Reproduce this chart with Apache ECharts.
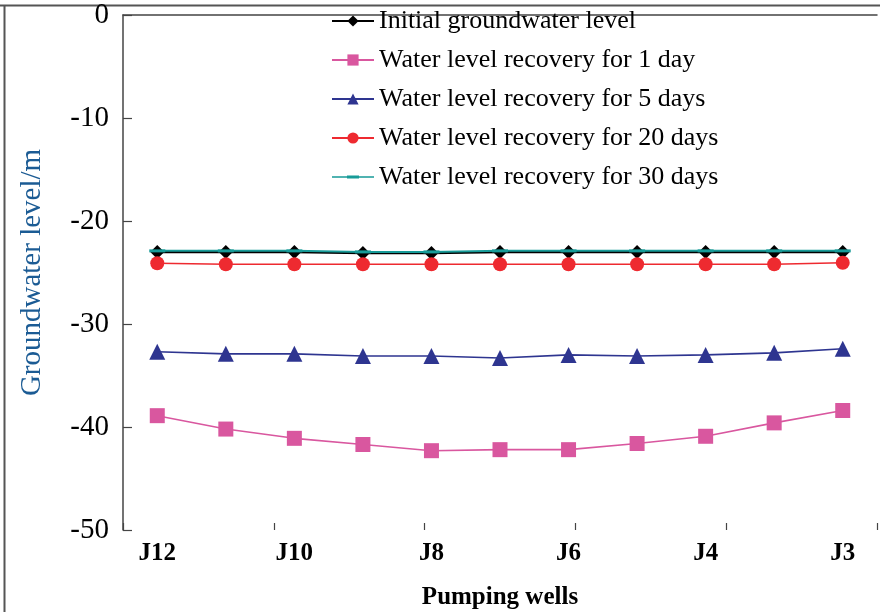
<!DOCTYPE html>
<html>
<head>
<meta charset="utf-8">
<script src="https://cdn.jsdelivr.net/npm/echarts@6/dist/echarts.min.js"></script>
<style>
  html, body { margin: 0; padding: 0; background: #fff; }
  #chart { width: 880px; height: 612px; }
</style>
</head>
<body>
<div id="chart"></div>
<script>
// Pumping wells along the section, left to right
const wells = ['J12', 'J11', 'J10', 'J9', 'J8', 'J7', 'J6', 'J5', 'J4', 'J2', 'J3'];

// Groundwater level (m) at each well
const initialLevel = [-23.0, -23.0, -23.0, -23.1, -23.1, -23.0, -23.0, -23.0, -23.0, -23.0, -23.0];
const recovery1d   = [-38.9, -40.2, -41.1, -41.7, -42.3, -42.2, -42.2, -41.6, -40.9, -39.6, -38.4];
const recovery5d   = [-32.7, -32.9, -32.9, -33.1, -33.1, -33.3, -33.0, -33.1, -33.0, -32.8, -32.4];
const recovery20d  = [-24.1, -24.2, -24.2, -24.2, -24.2, -24.2, -24.2, -24.2, -24.2, -24.2, -24.05];
const recovery30d  = [-22.9, -22.9, -22.9, -23.0, -23.0, -22.9, -22.9, -22.9, -22.9, -22.9, -22.9];

const yTicks = { min: -50, max: 0, interval: 10 };

const serif = '"Liberation Serif", "Times New Roman", serif';
const axisColor = '#444';

const names = [
  'Initial groundwater level',
  'Water level recovery for 1 day',
  'Water level recovery for 5 days',
  'Water level recovery for 20 days',
  'Water level recovery for 30 days'
];

const chart = echarts.init(document.getElementById('chart'), null, { renderer: 'canvas' });

function lineSeries(name, data, color, symbol, size, width) {
  return {
    name, type: 'line', data,
    xAxisIndex: 0, yAxisIndex: 0,
    symbol, symbolSize: size,
    showAllSymbol: true,
    lineStyle: { color, width },
    itemStyle: { color },
    emphasis: { disabled: true },
    animation: false
  };
}

// legend glyph for the 30-day line: thin line with a short thick dash in the middle
const dashLineIcon = 'path://M0,0L0.01,0L0,0Z M0,14L0.01,14L0,14Z M0,6.3H42V7.7H0Z M15,5.6H27V8.4H15Z';

chart.setOption({
  backgroundColor: '#fff',
  animation: false,
  grid: { left: 123, right: 3, top: 15, bottom: 82, containLabel: false, outerBoundsMode: 'none' },
  legend: {
    orient: 'vertical',
    left: 326, top: 3,
    itemWidth: 42, itemHeight: 14,
    itemGap: 13,
    textStyle: { fontFamily: serif, fontSize: 26, color: '#000', padding: [0, 0, 0, 0] },
    data: [
      names[0], names[1], names[2], names[3],
      { name: names[4], icon: dashLineIcon }
    ]
  },
  xAxis: [
    {
      type: 'category',
      data: wells,
      boundaryGap: true,
      name: 'Pumping wells',
      nameLocation: 'middle',
      nameGap: 55,
      nameTextStyle: { fontFamily: serif, fontSize: 25, fontWeight: 'bold', color: '#000' },
      axisLine: { lineStyle: { color: axisColor, width: 1.5 } },
      axisTick: { show: false },
      axisLabel: { interval: 1, margin: 11, fontFamily: serif, fontSize: 25, fontWeight: 'bold', color: '#000' },
      splitLine: { show: false }
    },
    {
      // evenly spaced tick marks along the bottom axis
      type: 'value', position: 'bottom',
      min: 0, max: 5, interval: 1,
      axisLine: { show: false },
      axisTick: { show: true, inside: true, length: 7, lineStyle: { color: axisColor, width: 1.2 } },
      axisLabel: { show: false },
      splitLine: { show: false }
    }
  ],
  yAxis: {
    type: 'value',
    min: yTicks.min, max: yTicks.max, interval: yTicks.interval,
    name: 'Groundwater level/m',
    nameLocation: 'middle',
    nameGap: 76,
    nameTextStyle: { fontFamily: serif, fontSize: 29, color: '#1b5b94' },
    axisLine: { show: true, lineStyle: { color: axisColor, width: 1.5 } },
    axisTick: { show: true, inside: true, length: 9, lineStyle: { color: axisColor, width: 1.2 } },
    axisLabel: { margin: 14, fontFamily: serif, fontSize: 29, color: '#000' },
    splitLine: { show: false }
  },
  series: [
    lineSeries(names[0], initialLevel, '#000000', 'diamond', 14, 2.5),
    lineSeries(names[1], recovery1d, '#d9579f', 'rect', 15, 1.6),
    lineSeries(names[2], recovery5d, '#2e3590', 'triangle', 16, 1.6),
    lineSeries(names[3], recovery20d, '#ee2a30', 'circle', 14, 1.6),
    lineSeries(names[4], recovery30d, '#179b98', 'rect', [16, 3], 2)
  ],
  graphic: [
    { type: 'line', shape: { x1: 0, y1: 5.5, x2: 880, y2: 5.5 }, style: { stroke: '#555', lineWidth: 2 }, silent: true },
    { type: 'line', shape: { x1: 4.5, y1: 5, x2: 4.5, y2: 612 }, style: { stroke: '#555', lineWidth: 2 }, silent: true }
  ]
});
</script>
</body>
</html>
